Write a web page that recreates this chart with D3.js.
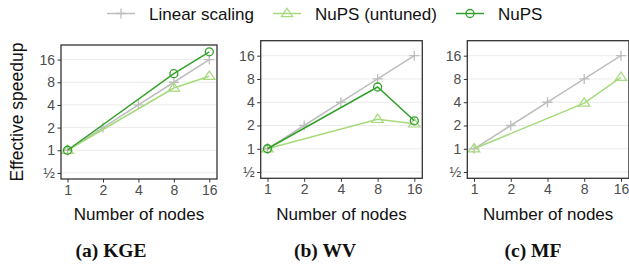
<!DOCTYPE html>
<html>
<head>
<meta charset="UTF-8">
<script src="https://d3js.org/d3.v7.min.js"></script>
<style>
  body { margin: 0; background: #fff; }
  svg { display: block; font-family: "Liberation Sans", Arial, sans-serif; }
</style>
</head>
<body>
<svg id="chart" width="629" height="269"></svg>
<script>
// data
const nodes = [1, 2, 4, 8, 16];
const linearSpeedup = [1, 2, 4, 8, 16];
const sparseNodes = [1, 8, 16];
const kgeUntuned = [1, 6.7, 9.6];
const kgeNups = [1, 10.4, 20.3];
const wvUntuned = [1, 2.4, 2.1];
const wvNups = [1, 6.3, 2.3];
const mfUntuned = [1, 3.9, 8.4];
const yTicks = [0.5, 1, 2, 4, 8, 16];
const yTickLabels = ["½", "1", "2", "4", "8", "16"];
const captions = ["(a) KGE", "(b) WV", "(c) MF"];
const seriesNames = ["Linear scaling", "NuPS (untuned)", "NuPS"];

const colors = { linear: "#bdbdbd", untuned: "#a6da7c", nups: "#33a02c" };

const svg = d3.select("#chart");

// panel boxes (layout only)
const panels = [
  { left: 61, top: 45, w: 156, h: 134, cap: 111,
    series: [{ k: "untuned", x: sparseNodes, y: kgeUntuned }, { k: "nups", x: sparseNodes, y: kgeNups }] },
  { left: 260.7, top: 40.7, w: 161.6, h: 137.6, cap: 325,
    series: [{ k: "untuned", x: sparseNodes, y: wvUntuned }, { k: "nups", x: sparseNodes, y: wvNups }] },
  { left: 467.3, top: 40.7, w: 161.6, h: 137.6, cap: 533,
    series: [{ k: "untuned", x: sparseNodes, y: mfUntuned }] }
];

function marker(g, kind, x, y) {
  if (kind === "linear") {
    g.append("path").attr("d", `M${x - 5},${y}H${x + 5}M${x},${y - 5}V${y + 5}`)
      .attr("stroke", colors.linear).attr("stroke-width", 1.3).attr("fill", "none");
  } else if (kind === "untuned") {
    const s = 5.2;
    g.append("path")
      .attr("d", `M${x},${y - s}L${x + s * 1.1},${y + s * 0.6}L${x - s * 1.1},${y + s * 0.6}Z`)
      .attr("stroke", colors.untuned).attr("stroke-width", 1.2).attr("fill", "none");
  } else {
    g.append("circle").attr("cx", x).attr("cy", y).attr("r", 4)
      .attr("stroke", colors.nups).attr("stroke-width", 1.3).attr("fill", "none");
  }
}

panels.forEach((p, i) => {
  const x = d3.scaleLog().base(2).domain([0.88, 18.6]).range([p.left, p.left + p.w]);
  const y = d3.scaleLog().base(2).domain([0.415, 25]).range([p.top + p.h, p.top]);
  const g = svg.append("g");

  // grid
  g.selectAll(".grid").data(yTicks).join("line")
    .attr("x1", p.left).attr("x2", p.left + p.w)
    .attr("y1", d => y(d)).attr("y2", d => y(d))
    .attr("stroke", "#ebebeb").attr("stroke-width", 1);

  // axes
  const ya = g.append("g").attr("transform", `translate(${p.left},0)`)
    .call(d3.axisLeft(y).tickValues(yTicks).tickFormat((d, j) => yTickLabels[j]).tickSize(3.5).tickPadding(2.5));
  const xa = g.append("g").attr("transform", `translate(0,${p.top + p.h})`)
    .call(d3.axisBottom(x).tickValues(nodes).tickFormat(d3.format("d")).tickSize(3.5).tickPadding(2.5));
  [ya, xa].forEach(a => {
    a.select(".domain").remove();
    a.selectAll(".tick line").attr("stroke", "#333");
    a.selectAll("text").attr("fill", "#4d4d4d").attr("font-size", 14)
      .attr("font-family", "Liberation Sans, Arial, sans-serif");
  });

  // series
  const line = d3.line().x(d => x(d[0])).y(d => y(d[1]));
  const all = [{ k: "linear", x: nodes, y: linearSpeedup }].concat(p.series);
  all.forEach(s => {
    const pts = s.x.map((v, j) => [v, s.y[j]]);
    g.append("path").attr("d", line(pts)).attr("fill", "none")
      .attr("stroke", colors[s.k]).attr("stroke-width", 1.5);
    pts.forEach(d => marker(g, s.k, x(d[0]), y(d[1])));
  });

  // border
  g.append("rect").attr("x", p.left).attr("y", p.top).attr("width", p.w).attr("height", p.h)
    .attr("fill", "none").attr("stroke", "#333").attr("stroke-width", 1.3);

  g.append("text").attr("x", p.left + p.w / 2).attr("y", 220)
    .attr("text-anchor", "middle").attr("font-size", 17).attr("fill", "#111")
    .text("Number of nodes");

  svg.append("text").attr("x", p.cap).attr("y", 257)
    .attr("text-anchor", "middle").attr("font-family", "Liberation Serif, Times New Roman, serif")
    .attr("font-weight", "bold").attr("font-size", 19.5).attr("fill", "#111")
    .text(captions[i]);
});

svg.append("text").attr("transform", "translate(23,112) rotate(-90)")
  .attr("text-anchor", "middle").attr("font-size", 17.5).attr("fill", "#111")
  .text("Effective speedup");

// legend
const legendX = [107, 273, 456];
const legendKinds = ["linear", "untuned", "nups"];
legendKinds.forEach((k, i) => {
  const lg = svg.append("g");
  lg.append("line").attr("x1", legendX[i]).attr("x2", legendX[i] + 28)
    .attr("y1", 13.5).attr("y2", 13.5).attr("stroke", colors[k]).attr("stroke-width", 1.5);
  marker(lg, k, legendX[i] + 14, 13.5);
  lg.append("text").attr("x", legendX[i] + 42).attr("y", 19.5)
    .attr("font-size", 17).attr("fill", "#111").text(seriesNames[i]);
});
</script>
</body>
</html>
